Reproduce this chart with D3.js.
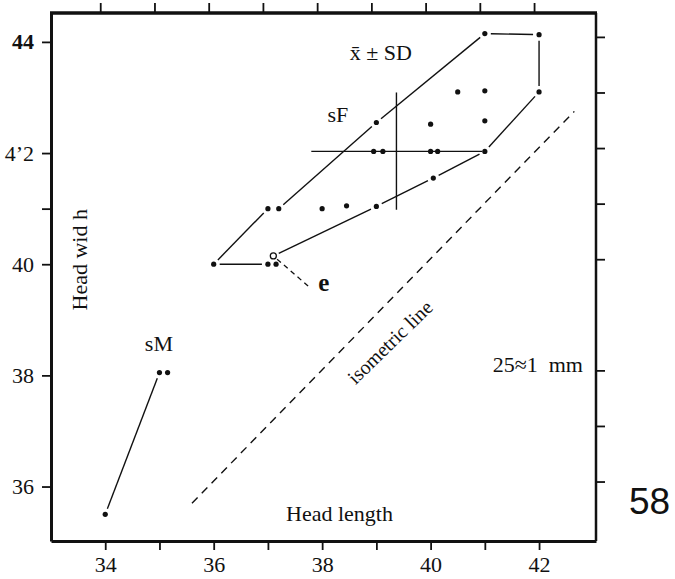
<!DOCTYPE html>
<html>
<head>
<meta charset="utf-8">
<script src="https://cdn.jsdelivr.net/npm/d3@7"></script>
<style>
  body { margin: 0; background: #fff; }
  svg { display: block; }
  text { font-family: "Liberation Serif", "Times New Roman", serif; fill: #111; }
</style>
</head>
<body>
<div id="chart"></div>
<script>
// head length (x) vs head width (y)
const sfPoints = [
    [36, 40], [37, 41], [37.2, 41], [38, 41], [38.45, 41.05], [39, 41.04],
    [37, 40], [37.15, 40], [40.05, 41.55],
    [38.95, 42.03], [39.12, 42.03], [40, 42.03], [40.13, 42.03], [41, 42.03],
    [39, 42.55], [40, 42.52], [41, 42.58],
    [40.5, 43.1], [41, 43.12], [42, 43.1],
    [41, 44.15], [42, 44.13]
];
// outline round the sF group, in drawing order
const sfHull = [
    [37, 40], [36, 40], [37, 41], [37.2, 41], [39, 42.55], [41, 44.15], [42, 44.13],
    [42, 43.1], [41, 42.03], [40.05, 41.55], [39, 41.04], [37.1, 40.15]
];
const sfMean = [39.37, 42.03];
const sfSdX = [37.8, 40.95];
const sfSdY = [40.98, 43.09];

const smPoints = [[35, 38.05], [35.15, 38.05], [34, 35.5]];
const smLine = [[34, 35.5], [35, 38.05]];

const openPoint = [37.1, 40.15];
const eLeader = [[37.1, 40.15], [37.75, 39.6]];
const isoLine = [[35.6, 35.7], [42.65, 42.75]];

const xTicks = [34, 35, 36, 37, 38, 39, 40, 41, 42];
const xTickLabels = ["34", "", "36", "", "38", "", "40", "", "42"];
const yTicksLeft = [36, 38, 40, 41, 42, 44];
const yTickLabels = ["36", "38", "40", "", "4\u20192", "44"];
const yTicksRight = [36, 37, 38, 40, 41, 42, 43, 44];

const width = 675, height = 579;
const plot = {left: 51, right: 596, top: 13, bottom: 541};

let svg = d3.select("#chart")
    .append("svg")
    .attr("width", width)
    .attr("height", height);

let x = d3.scaleLinear().domain([33, 43.05]).range([plot.left, plot.right]);
let y = d3.scaleLinear().domain([35.02, 44.52]).range([plot.bottom, plot.top]);
// the scan is a little skewed: top and right tick rows sit a few pixels off
let xTop = x.copy().range([plot.left - 5, plot.right - 5]);
let yRight = y.copy().range([plot.bottom - 5, plot.top - 5]);

// axes on all four sides
function styleAxis(g, w) {
    g.attr("font-family", "'Liberation Serif', serif").attr("font-size", 22);
    g.select(".domain").attr("stroke", "#111").attr("stroke-width", w);
    g.selectAll(".tick line").attr("stroke", "#111").attr("stroke-width", 1.8);
    g.selectAll(".tick text")
        .style("font-family", "'Liberation Serif', serif")
        .style("font-size", "22px")
        .attr("fill", "#111");
}

svg.append("g")
    .attr("transform", `translate(0, ${plot.bottom})`)
    .call(d3.axisBottom(x).tickValues(xTicks).tickSize(9).tickPadding(6)
        .tickSizeOuter(0).tickFormat((d, i) => xTickLabels[i]))
    .call(g => styleAxis(g, 3));

svg.append("g")
    .attr("transform", `translate(0, ${plot.top})`)
    .call(d3.axisTop(xTop).tickValues(xTicks).tickSize(10).tickSizeOuter(0).tickFormat(""))
    .call(g => styleAxis(g, 3.5))
    .call(g => g.select(".domain").remove());

svg.append("g")
    .attr("transform", `translate(${plot.left}, 0)`)
    .call(d3.axisLeft(y).tickValues(yTicksLeft).tickSize(9).tickPadding(8)
        .tickSizeOuter(0).tickFormat((d, i) => yTickLabels[i]))
    .call(g => styleAxis(g, 3))
    .call(g => g.selectAll(".tick text").filter(d => d === 44).style("font-weight", "bold"));

svg.append("g")
    .attr("transform", `translate(${plot.right}, 0)`)
    .call(d3.axisRight(yRight).tickValues(yTicksRight).tickSize(9).tickSizeOuter(0).tickFormat(""))
    .call(g => styleAxis(g, 2.5))
    .call(g => g.select(".domain").remove());

// top and right frame lines
svg.append("line")
    .attr("x1", plot.left - 1).attr("x2", plot.right + 1)
    .attr("y1", plot.top).attr("y2", plot.top)
    .attr("stroke", "#111").attr("stroke-width", 3.5);
svg.append("line")
    .attr("x1", plot.right).attr("x2", plot.right)
    .attr("y1", plot.top).attr("y2", plot.bottom)
    .attr("stroke", "#111").attr("stroke-width", 2.5);

// line between two data points, pulled back from each end so the dots stand clear
function trimmed(a, b, gap) {
    let x1 = x(a[0]), y1 = y(a[1]), x2 = x(b[0]), y2 = y(b[1]);
    let len = Math.hypot(x2 - x1, y2 - y1);
    if (len < 2 * gap + 4) return null;
    let ux = (x2 - x1) / len, uy = (y2 - y1) / len;
    return [x1 + ux * gap, y1 + uy * gap, x2 - ux * gap, y2 - uy * gap];
}

let hullSegs = [];
for (let i = 0; i < sfHull.length - 1; i++) {
    let s = trimmed(sfHull[i], sfHull[i + 1], 6);
    if (s) hullSegs.push(s);
}
hullSegs.push(trimmed(smLine[0], smLine[1], 6));

svg.append("g").selectAll("line")
    .data(hullSegs)
    .enter()
    .append("line")
    .attr("x1", d => d[0]).attr("y1", d => d[1])
    .attr("x2", d => d[2]).attr("y2", d => d[3])
    .attr("stroke", "#111")
    .attr("stroke-width", 1.4);

// mean +- SD cross
svg.append("line")
    .attr("x1", x(sfSdX[0])).attr("x2", x(sfSdX[1]))
    .attr("y1", y(sfMean[1])).attr("y2", y(sfMean[1]))
    .attr("stroke", "#111").attr("stroke-width", 1.4);
svg.append("line")
    .attr("x1", x(sfMean[0])).attr("x2", x(sfMean[0]))
    .attr("y1", y(sfSdY[0])).attr("y2", y(sfSdY[1]))
    .attr("stroke", "#111").attr("stroke-width", 1.4);

// dashed isometric line and the leader to "e"
svg.append("line")
    .attr("x1", x(isoLine[0][0])).attr("y1", y(isoLine[0][1]))
    .attr("x2", x(isoLine[1][0])).attr("y2", y(isoLine[1][1]))
    .attr("stroke", "#111").attr("stroke-width", 1.4)
    .attr("stroke-dasharray", "8,6");

let lead = trimmed(eLeader[0], eLeader[1], 5);
svg.append("line")
    .attr("x1", lead[0]).attr("y1", lead[1])
    .attr("x2", x(eLeader[1][0])).attr("y2", y(eLeader[1][1]))
    .attr("stroke", "#111").attr("stroke-width", 1.3)
    .attr("stroke-dasharray", "5,4");

// points
svg.append("g").selectAll("circle")
    .data(sfPoints.concat(smPoints))
    .enter()
    .append("circle")
    .attr("cx", d => x(d[0]))
    .attr("cy", d => y(d[1]))
    .attr("r", 2.6)
    .attr("fill", "#111");

svg.append("circle")
    .attr("cx", x(openPoint[0]))
    .attr("cy", y(openPoint[1]))
    .attr("r", 3)
    .attr("fill", "#fff")
    .attr("stroke", "#111")
    .attr("stroke-width", 1.3);

// labels
svg.append("text")
    .attr("x", x(38.51)).attr("y", y(43.67))
    .style("font-size", "22px")
    .text("x\u0304 \u00b1 SD");

svg.append("text")
    .attr("x", x(38.29)).attr("y", y(42.56))
    .attr("text-anchor", "middle")
    .style("font-size", "22px")
    .text("sF");

svg.append("text")
    .attr("x", x(34.99)).attr("y", y(38.43))
    .attr("text-anchor", "middle")
    .style("font-size", "22px")
    .text("sM");

svg.append("text")
    .attr("x", x(37.93)).attr("y", y(39.52))
    .style("font-size", "25px")
    .style("font-weight", "bold")
    .text("e");

let isoAngle = Math.atan2(y(isoLine[1][1]) - y(isoLine[0][1]),
                          x(isoLine[1][0]) - x(isoLine[0][0])) * 180 / Math.PI;
svg.append("text")
    .attr("transform", `translate(${x(39.25)}, ${y(38.6)}) rotate(${isoAngle + 1.5})`)
    .attr("text-anchor", "middle")
    .attr("dominant-baseline", "central")
    .style("font-size", "20px")
    .text("isometric line");

svg.append("text")
    .attr("transform", `translate(79, ${y(40.08)}) rotate(-90)`)
    .attr("text-anchor", "middle")
    .attr("dominant-baseline", "central")
    .style("font-size", "22px")
    .text("Head wid h");

svg.append("text")
    .attr("x", x(38.32)).attr("y", 521)
    .attr("text-anchor", "middle")
    .style("font-size", "22px")
    .text("Head length");

svg.append("text")
    .attr("x", 583).attr("y", 372)
    .attr("text-anchor", "end")
    .style("font-size", "22px")
    .style("white-space", "pre")
    .text("25\u22481  mm");

svg.append("text")
    .attr("x", 629).attr("y", 514)
    .style("font-family", "'Liberation Sans', Arial, sans-serif")
    .style("font-size", "37px")
    .text("58");
</script>
</body>
</html>
